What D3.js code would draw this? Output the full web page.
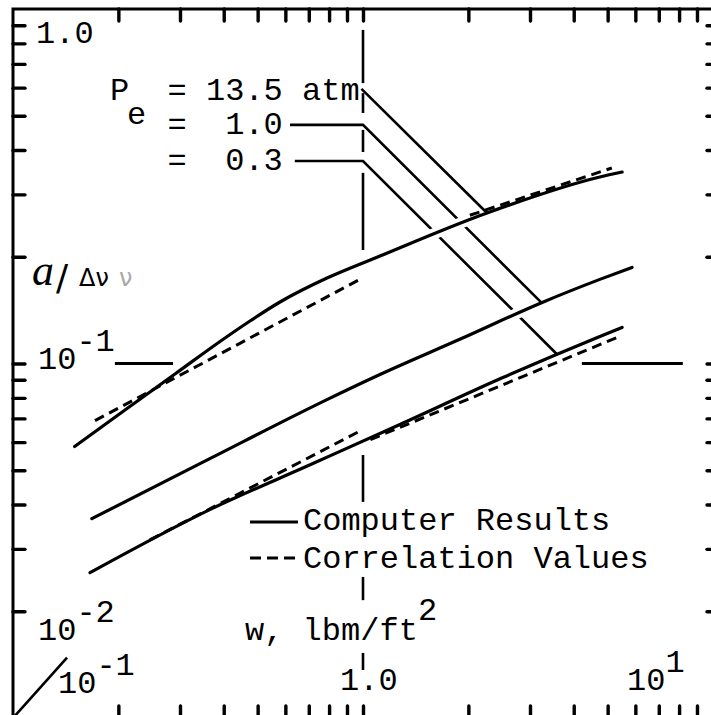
<!DOCTYPE html>
<html>
<head>
<meta charset="utf-8">
<script src="https://cdn.jsdelivr.net/npm/d3@7"></script>
<style>
  html, body { margin: 0; padding: 0; background: #fff; }
  svg { display: block; }
  text { font-family: "Liberation Mono", "DejaVu Sans Mono", monospace; fill: #000; white-space: pre; }
</style>
</head>
<body>
<svg id="chart" width="711" height="715"></svg>
<script>
// a/Δν against absorber mass w (lbm/ft²) at three pressures P_e

// Computer results, [w, a/Δν]
const computed135 = [[0.150,0.0583],[0.2089,0.0739],[0.2903,0.0934],[0.4034,0.1180],[0.4755,0.1318],
                     [0.5793,0.1491],[0.789,0.1742],[1.118,0.2010],[2.261,0.2658],[4.75,0.3359],[5.50,0.3468]];
const computed10  = [[0.168,0.0365],[0.365,0.0539],[0.789,0.0791],[1.118,0.0931],[1.89,0.117],
                     [3.25,0.1487],[4.75,0.1727],[5.87,0.1867]];
const computed03  = [[0.166,0.0257],[0.365,0.0387],[0.706,0.0518],[1.275,0.0673],[2.51,0.0913],
                     [4.75,0.1192],[5.50,0.1264]];

// Correlation values (straight segments on log-log)
const correlation135 = [[[0.1715,0.069],[0.993,0.174]], [[2.02,0.262],[5.14,0.356]]];
const correlation03  = [[[0.246,0.0318],[0.993,0.0649]], [[1.05,0.061],[5.32,0.1184]]];

// Pressure labels and their leader lines
const pressureLabels = ["13.5 atm", "1.0", "0.3"];
const leader135 = [[0.99,0.595],[2.261,0.2658]];
const leader10  = [[0.6187,0.471],[1.0,0.471],[3.246,0.148]];
const leader03  = [[0.6385,0.3726],[1.0,0.3726],[3.60,0.1057]];

// Broken reference line at w = 1.0 (a/Δν extents of each piece)
const refW = 1.0;
const refPieces = [[0.873,0.618],[0.579,0.509],[0.456,0.395],[0.345,0.209],
                   [0.0552,0.0407],[0.0250,0.0215],[0.01526,0.01366]];
// Short rules marking a/Δν = 0.1 (w extents)
const tenthRules = [[0.1955,0.2865],[4.22,8.2]];
const cornerSlash = [[0.1,0.01],[0.1427,0.0148]];

// Tick values
const xTicks = [0.2,0.3,0.4,0.5,0.6,0.7,0.8,0.9,1,2,3,4,5,6,7,8,9];
const yTicks = [0.02,0.03,0.04,0.05,0.06,0.07,0.08,0.09,0.1,0.2,0.3,0.4,0.5,0.6,0.7,0.8,0.9];

const svg = d3.select("#chart");
const x = d3.scaleLog().domain([0.1, 10]).range([13, 713]);
const y = d3.scaleLog().domain([0.01, 1]).range([718, 9]);

const line = d3.line().x(d => x(d[0])).y(d => y(d[1])).curve(d3.curveMonotoneX);
const straight = d3.line().x(d => x(d[0])).y(d => y(d[1]));

// Frame
svg.append("rect")
  .attr("x", x(0.1)).attr("y", y(1))
  .attr("width", x(10) - x(0.1)).attr("height", y(0.01) - y(1))
  .attr("fill", "none").attr("stroke", "#000").attr("stroke-width", 3);

// Inward ticks on all four sides
function styleTicks(g) {
  g.select(".domain").remove();
  g.selectAll(".tick line").attr("stroke", "#000").attr("stroke-width", 3.4).attr("stroke-linecap", "round");
}
svg.append("g").attr("transform", `translate(0,${y(1)})`)
  .call(d3.axisTop(x).tickValues(xTicks).tickSize(-12).tickFormat("")).call(styleTicks);
svg.append("g").attr("transform", `translate(0,${y(0.01)})`)
  .call(d3.axisBottom(x).tickValues(xTicks).tickSize(-12).tickFormat("")).call(styleTicks);
svg.append("g").attr("transform", `translate(${x(0.1)},0)`)
  .call(d3.axisLeft(y).tickValues(yTicks).tickSize(-12).tickFormat("")).call(styleTicks);
svg.append("g").attr("transform", `translate(${x(10)},0)`)
  .call(d3.axisRight(y).tickValues(yTicks).tickSize(-6).tickFormat("")).call(styleTicks);

// Broken reference line at w = 1.0
svg.append("g").selectAll("line").data(refPieces).join("line")
  .attr("x1", x(refW)).attr("x2", x(refW))
  .attr("y1", d => y(d[0])).attr("y2", d => y(d[1]))
  .attr("stroke", "#000").attr("stroke-width", 2.6);

// a/Δν = 0.1 rules
svg.append("g").selectAll("line").data(tenthRules).join("line")
  .attr("x1", d => x(d[0])).attr("x2", d => x(d[1]))
  .attr("y1", y(0.1)).attr("y2", y(0.1))
  .attr("stroke", "#000").attr("stroke-width", 3);

svg.append("path").attr("d", straight(cornerSlash))
  .attr("fill", "none").attr("stroke", "#000").attr("stroke-width", 2.6);

// Leader lines; curves they cross get a white halo so the leaders appear broken
const leaderStyle = p => p.attr("fill", "none").attr("stroke", "#000").attr("stroke-width", 2.6);
const halo = d => svg.append("path").attr("d", line(d)).attr("fill", "none")
  .attr("stroke", "#fff").attr("stroke-width", 11);

svg.append("path").attr("d", straight(leader03)).call(leaderStyle);
halo(computed10);
svg.append("path").attr("d", straight(leader10)).call(leaderStyle);
halo(computed135);
svg.append("path").attr("d", straight(leader135)).call(leaderStyle);

// Correlation values (dashed)
[...correlation135, ...correlation03].forEach(seg => {
  svg.append("path").attr("d", straight(seg)).attr("fill", "none")
    .attr("stroke", "#000").attr("stroke-width", 3).attr("stroke-dasharray", "10,6");
});

// Computer results (solid)
[computed135, computed10, computed03].forEach(c => {
  svg.append("path").attr("d", line(c)).attr("fill", "none")
    .attr("stroke", "#000").attr("stroke-width", 3.2).attr("stroke-linecap", "round");
});

// Text helper
function txt(s, px, py, size, extra) {
  const t = svg.append("text").attr("x", px).attr("y", py).attr("font-size", size).text(s);
  if (extra) extra(t);
  return t;
}
const FS = 32;

// Pressure labels
txt("P", 110, 100, FS);
txt("e", 127, 124, FS);
txt("= " + pressureLabels[0], 167.6, 100, FS);
txt("=  " + pressureLabels[1], 167.6, 134, FS);
txt("=  " + pressureLabels[2], 167.6, 170, FS);

// Axis value labels
txt("1.0", 36, y(1) + 34, FS);
txt("10", 38, y(0.1) + 5, FS);
txt("-1", 76.4, y(0.1) - 13, FS);
txt("10", 38, 640, FS);
txt("-2", 76.4, 622, FS);
txt("10", 58, 693, FS);
txt("-1", 96.4, 675, FS);
txt("1.0", 340, 690, FS);
txt("10", 627, 690, FS);
txt("1", 665.4, 672, FS);

// Axis titles
txt("w, lbm/ft", 245, 640, FS);
txt("2", 418, 620, FS);
const serifItalic = t => t.style("font-family", "'Liberation Serif', serif").style("font-style", "italic");
const sans = t => t.style("font-family", "'DejaVu Sans', sans-serif");
txt("a", 32, 285, 44, serifItalic);
txt("/", 56, 290, 36, sans);
txt("Δν", 79, 286, 24, sans);
txt("ν", 119, 286, 24, t => sans(t).style("fill", "#aaa"));

// Legend
svg.append("line").attr("x1", 250).attr("x2", 298).attr("y1", 522).attr("y2", 522)
  .attr("stroke", "#000").attr("stroke-width", 3);
svg.append("line").attr("x1", 250).attr("x2", 298).attr("y1", 558).attr("y2", 558)
  .attr("stroke", "#000").attr("stroke-width", 3).attr("stroke-dasharray", "11,6");
txt("Computer Results", 303, 530, FS);
txt("Correlation Values", 303, 568, FS);
</script>
</body>
</html>
